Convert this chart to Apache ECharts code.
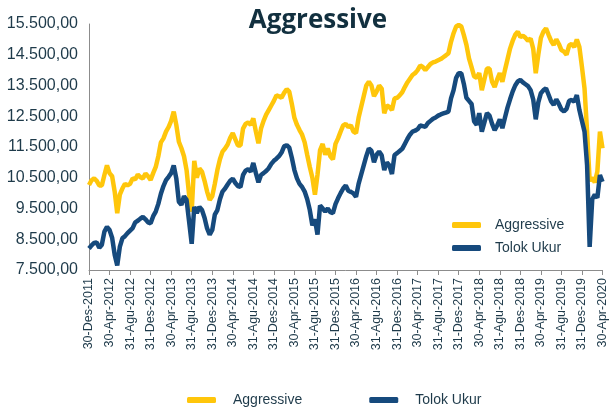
<!DOCTYPE html>
<html>
<head>
<meta charset="utf-8">
<script src="https://cdn.jsdelivr.net/npm/echarts@6/dist/echarts.min.js"></script>
<style>
  html, body { margin: 0; padding: 0; background: #fff; }
  #chart { width: 609px; height: 410px; }
</style>
</head>
<body>
<div id="chart"></div>
<script>
// tick labels every 4 months, from 30-Des-2011 to 30-Apr-2020
var tickLabels = ['30-Des-2011','30-Apr-2012','31-Agu-2012','31-Des-2012','30-Apr-2013','31-Agu-2013',
  '31-Des-2013','30-Apr-2014','31-Agu-2014','31-Des-2014','30-Apr-2015','31-Agu-2015','31-Des-2015',
  '30-Apr-2016','31-Agu-2016','31-Des-2016','30-Apr-2017','31-Agu-2017','31-Des-2017','30-Apr-2018',
  '31-Agu-2018','31-Des-2018','30-Apr-2019','31-Agu-2019','31-Des-2019','30-Apr-2020'];

// values read every half month (point i sits at month i/2 after Dec 2011)
var aggressive = [
  10264,10420,10480,10400,10250,10250,10590,10900,10650,10550,
  10050,9350,9950,10150,10300,10250,10300,10480,10450,10600,
  10520,10480,10640,10550,10430,10650,10850,11200,11650,11780,
  12000,12150,12350,12650,12220,11670,11460,11200,10750,9940,
  9400,11050,10500,10800,10700,10400,10050,9780,9900,10300,
  10750,11100,11350,11450,11580,11800,11950,11750,11550,11550,
  12100,12250,12300,12220,12430,12000,11620,12100,12350,12550,
  12700,12850,13000,13180,13150,13100,13260,13380,13300,12900,
  12450,12220,12050,11900,11650,11240,10850,10500,9950,10600,
  11400,11600,11250,11450,11200,11100,11600,11780,12000,12200,
  12250,12150,12200,12000,11950,12450,12800,13150,13500,13620,
  13500,13150,13300,13500,13400,12600,12850,12800,12700,13080,
  13100,13180,13280,13450,13600,13720,13840,13900,14000,14150,
  14100,14000,14100,14200,14250,14280,14320,14360,14420,14480,
  14550,14920,15200,15420,15470,15420,15140,14820,14380,14100,
  13800,13750,13900,13350,13700,14050,14050,13620,13450,13700,
  13900,13620,14000,14350,14700,14950,15150,15250,15080,15120,
  15050,14950,15030,14700,13900,14500,15050,15250,15360,15150,
  14950,14820,15000,14850,14650,14600,14500,14800,14850,14750,
  15000,14750,14100,13400,12000,10400,10500,10350,10700,12000,
  11460
];
var tolokUkur = [
  8200,8300,8380,8400,8220,8320,8750,8900,8800,8550,
  8000,7650,8250,8530,8600,8700,8780,8860,9050,9100,
  9170,9230,9150,9050,9020,9250,9400,9650,9980,10230,
  10420,10530,10650,10900,10480,9720,9620,9900,9780,9070,
  8350,9550,9350,9550,9450,9200,8850,8650,8800,9300,
  9450,9800,10050,10150,10280,10400,10470,10330,10230,10200,
  10590,10730,10780,10700,10980,10650,10350,10590,10650,10720,
  10810,10950,11050,11120,11200,11320,11520,11560,11480,11150,
  10750,10480,10300,10200,10050,9800,9450,8950,9150,8650,
  9600,9500,9400,9500,9380,9350,9640,9830,10000,10150,
  10250,10080,10040,9990,9880,10300,10600,10900,11200,11450,
  11380,11000,11250,11350,11230,10750,11000,10900,10620,11240,
  11300,11370,11440,11600,11760,11900,12000,12030,12080,12200,
  12180,12160,12280,12350,12420,12460,12520,12560,12590,12620,
  12650,13080,13350,13750,13900,13900,13550,13100,13000,12900,
  12330,12220,12600,12000,12300,12600,12520,12250,12050,12200,
  12400,12110,12450,12780,13050,13300,13500,13630,13680,13600,
  13540,13480,13350,13050,12400,12950,13250,13350,13410,13200,
  12980,12870,13050,12900,12720,12660,12740,13000,13030,12970,
  13190,12700,12350,12000,10900,8250,9800,9950,9850,10590,
  10370
];

var gold = '#ffc60b';
var navy = '#164a7d';
var ink = '#1e3a4a';

function idr(v) {
  var s = String(Math.round(v));
  return s.replace(/\B(?=(\d{3})+(?!\d))/g, '.') + ',00';
}

var chart = echarts.init(document.getElementById('chart'));

var legendText = { fontFamily: 'Liberation Sans', fontSize: 14, lineHeight: 16, color: ink };

var option = {
  animation: false,
  title: {
    text: 'Aggressive',
    left: 313,
    textAlign: 'center',
    top: 3,
    textStyle: { fontFamily: 'Open Sans', fontWeight: 'bold', fontSize: 26, color: '#12303f' }
  },
  grid: { left: 89, right: 3, top: 24, bottom: 140 },
  legend: [{
    orient: 'vertical',
    left: 452,
    top: 217,
    padding: 0,
    itemWidth: 29,
    itemHeight: 6,
    itemGap: 7,
    icon: 'roundRect',
    textStyle: Object.assign({ padding: [0, 0, 0, 9] }, legendText),
    data: ['Aggressive', 'Tolok Ukur']
  }, {
    orient: 'horizontal',
    left: 187,
    top: 392,
    padding: 0,
    itemWidth: 29,
    itemHeight: 6,
    itemGap: 67,
    icon: 'roundRect',
    textStyle: Object.assign({ padding: [0, 0, 0, 12] }, legendText),
    data: ['Aggressive', 'Tolok Ukur']
  }],
  xAxis: {
    type: 'value',
    min: 0,
    max: 100,
    interval: 4,
    splitLine: { show: false },
    axisLine: { lineStyle: { color: '#8c8c8c', width: 1 } },
    axisTick: { show: true, length: 5, lineStyle: { color: '#8c8c8c' } },
    axisLabel: {
      rotate: 90,
      margin: 8,
      fontFamily: 'Liberation Sans',
      fontSize: 12.5,
      color: ink,
      showMaxLabel: true,
      formatter: function (v) { return tickLabels[Math.round(v / 4)] || ''; }
    }
  },
  yAxis: {
    type: 'value',
    min: 7500,
    max: 15500,
    interval: 1000,
    splitLine: { show: false },
    axisLine: { show: true, lineStyle: { color: '#8c8c8c', width: 1 } },
    axisTick: { show: false },
    axisLabel: {
      margin: 11,
      fontFamily: 'Liberation Sans',
      fontSize: 16,
      color: ink,
      formatter: idr
    }
  },
  series: [{
    name: 'Aggressive',
    type: 'line',
    showSymbol: false,
    color: gold,
    lineStyle: { width: 4.5, color: gold },
    data: aggressive.map(function (v, i) { return [i / 2, v]; })
  }, {
    name: 'Tolok Ukur',
    type: 'line',
    showSymbol: false,
    color: navy,
    lineStyle: { width: 4.5, color: navy },
    data: tolokUkur.map(function (v, i) { return [i / 2, v]; })
  }]
};

chart.setOption(option);
</script>
</body>
</html>
